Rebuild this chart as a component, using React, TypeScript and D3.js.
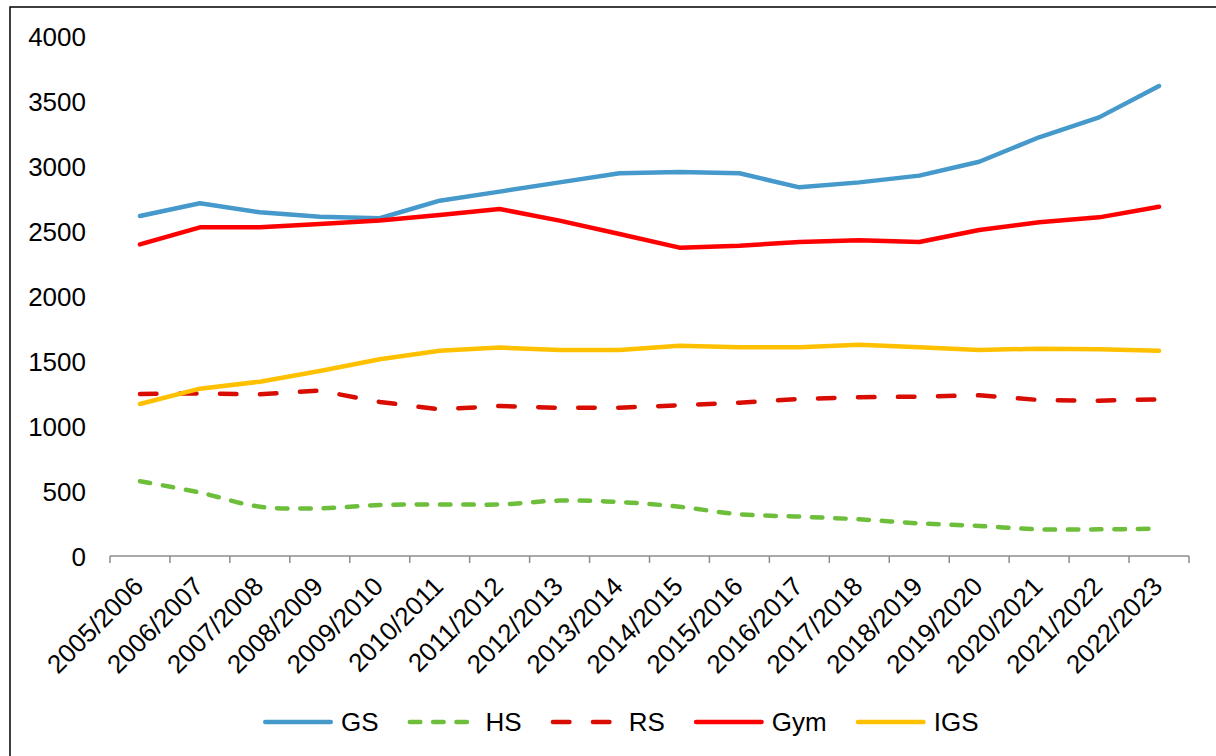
import React, { useEffect, useRef } from "react"
import * as d3 from "d3"

const categories = [
  "2005/2006", "2006/2007", "2007/2008", "2008/2009", "2009/2010", "2010/2011",
  "2011/2012", "2012/2013", "2013/2014", "2014/2015", "2015/2016", "2016/2017",
  "2017/2018", "2018/2019", "2019/2020", "2020/2021", "2021/2022", "2022/2023",
]

const gsValues = [2615, 2713, 2644, 2610, 2598, 2733, 2803, 2874, 2944, 2954, 2944, 2836, 2874, 2926, 3033, 3221, 3374, 3615]
const hsValues = [575, 488, 379, 367, 392, 397, 397, 426, 415, 379, 321, 303, 282, 251, 231, 205, 205, 210]
const rsValues = [1246, 1251, 1244, 1272, 1185, 1128, 1154, 1140, 1141, 1159, 1179, 1208, 1221, 1226, 1236, 1200, 1195, 1205]
const gymValues = [2397, 2528, 2528, 2554, 2580, 2623, 2669, 2580, 2477, 2372, 2387, 2415, 2428, 2415, 2508, 2567, 2605, 2687]
const igsValues = [1169, 1287, 1341, 1423, 1513, 1579, 1603, 1585, 1585, 1618, 1605, 1605, 1625, 1605, 1585, 1595, 1590, 1579]

const yTicks = [0, 500, 1000, 1500, 2000, 2500, 3000, 3500, 4000]

const series = [
  { name: "GS", values: gsValues, color: "#4599CB", dash: null, smooth: false },
  { name: "HS", values: hsValues, color: "#6DBE3B", dash: "10.5,12.8", smooth: true },
  { name: "RS", values: rsValues, color: "#D80C00", dash: "16.5,23.5", smooth: false },
  { name: "Gym", values: gymValues, color: "#FF0000", dash: null, smooth: false },
  { name: "IGS", values: igsValues, color: "#FFC000", dash: null, smooth: false },
]

const FONT = "'Liberation Sans', Arial, sans-serif"

export default function App() {
  const ref = useRef<SVGSVGElement | null>(null)

  useEffect(() => {
    const svg = d3.select(ref.current)
    svg.selectAll("*").remove()

    const width = 1216
    const height = 756
    const plot = { left: 110, right: 1189, top: 36, bottom: 556 }

    // chart frame (runs past the picture on the right and bottom)
    svg
      .append("rect")
      .attr("x", 10)
      .attr("y", 7)
      .attr("width", width + 40)
      .attr("height", height + 40)
      .attr("fill", "white")
      .attr("stroke", "black")
      .attr("stroke-width", 1.5)

    const x = d3.scaleBand().domain(categories).range([plot.left, plot.right])
    const y = d3.scaleLinear().domain([0, 4000]).range([plot.bottom, plot.top])
    const cx = (c: string) => (x(c) as number) + x.bandwidth() / 2

    // y labels, no axis line
    const yAxis = svg
      .append("g")
      .attr("transform", "translate(86,0)")
      .call(d3.axisLeft(y).tickValues(yTicks).tickSize(0).tickPadding(0).tickFormat(d3.format("d")))
    yAxis.select(".domain").remove()
    yAxis
      .selectAll("text")
      .attr("dy", "0.36em")
      .style("font-family", FONT)
      .style("font-size", "26px")
      .style("fill", "#000")

    // x axis line and category boundary ticks
    const xa = svg.append("g")
    xa.append("line")
      .attr("x1", plot.left)
      .attr("x2", plot.right)
      .attr("y1", plot.bottom)
      .attr("y2", plot.bottom)
      .attr("stroke", "#8C8C8C")
      .attr("stroke-width", 1.5)
    xa.selectAll("line.tick")
      .data(d3.range(categories.length + 1))
      .enter()
      .append("line")
      .attr("class", "tick")
      .attr("x1", (i) => plot.left + i * x.step())
      .attr("x2", (i) => plot.left + i * x.step())
      .attr("y1", plot.bottom)
      .attr("y2", plot.bottom + 7)
      .attr("stroke", "#8C8C8C")
      .attr("stroke-width", 1.5)
    xa.selectAll("text")
      .data(categories)
      .enter()
      .append("text")
      .attr("transform", (c) => "translate(" + (cx(c) + 5) + "," + (plot.bottom + 32) + ") rotate(-45)")
      .attr("text-anchor", "end")
      .style("font-family", FONT)
      .style("font-size", "26px")
      .text((c) => c)

    // lines
    series.forEach((s) => {
      const line = d3
        .line<number>()
        .x((_, i) => cx(categories[i]))
        .y((v) => y(v))
        .curve(s.smooth ? d3.curveCatmullRom.alpha(0.5) : d3.curveLinear)
      svg
        .append("path")
        .attr("d", line(s.values))
        .attr("fill", "none")
        .attr("stroke", s.color)
        .attr("stroke-width", 4.5)
        .attr("stroke-linecap", "round")
        .attr("stroke-linejoin", "round")
        .attr("stroke-dasharray", s.dash)
    })

    // legend
    const legend = svg.append("g")
    let lx = 263
    const ly = 722
    series.forEach((s) => {
      legend
        .append("line")
        .attr("x1", lx + 2.25)
        .attr("x2", lx + 67.75)
        .attr("y1", ly)
        .attr("y2", ly)
        .attr("stroke", s.color)
        .attr("stroke-width", 4.5)
        .attr("stroke-linecap", "round")
        .attr("stroke-dasharray", s.dash)
      const t = legend
        .append("text")
        .attr("x", lx + 78)
        .attr("y", ly)
        .attr("dy", "0.36em")
        .style("font-family", FONT)
        .style("font-size", "26px")
        .text(s.name)
      const w = (t.node() as SVGTextElement).getComputedTextLength()
      lx = lx + 78 + w + 29
    })
  }, [])

  return (
    <svg
      ref={ref}
      width={1216}
      height={756}
      style={{ position: "absolute", left: 0, top: 0, display: "block" }}
    />
  )
}
